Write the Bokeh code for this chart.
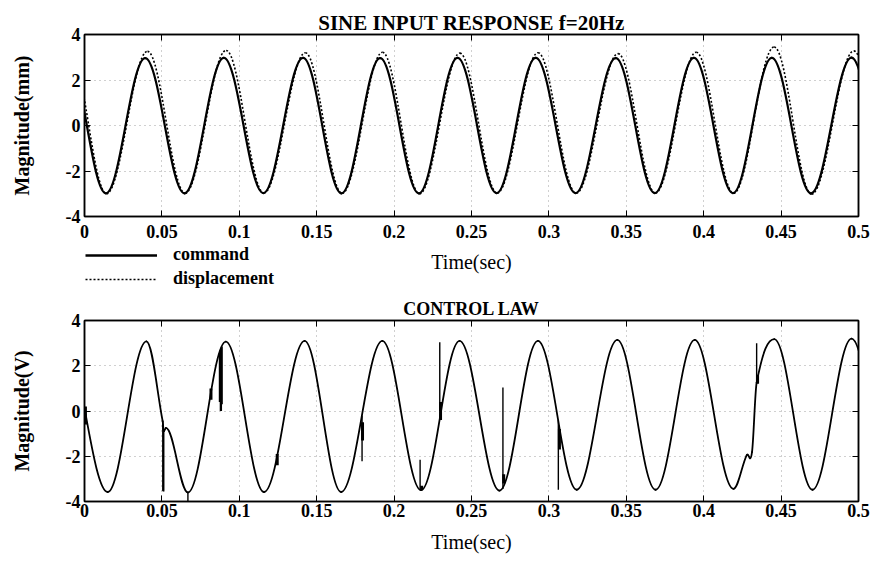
import numpy as np
from bokeh.plotting import figure
from bokeh.models import (Range1d, FixedTicker, LinearAxis, Legend, LegendItem,
                          CustomJSTickFormatter)
from bokeh.layouts import column
from bokeh.embed import file_html
from bokeh.resources import INLINE

# ---------------- data ----------------
x_ticks = [0.0, 0.05, 0.1, 0.15, 0.2, 0.25, 0.3, 0.35, 0.4, 0.45, 0.5]
x_tick_labels = ["0", "0.05", "0.1", "0.15", "0.2", "0.25", "0.3", "0.35", "0.4", "0.45", "0.5"]
y_ticks = [-4, -2, 0, 2, 4]
y_tick_labels = ["-4", "-2", "0", "2", "4"]

# top panel: successive peaks / troughs (time s, magnitude mm)
cmd_t = [-0.0107, 0.0138, 0.0392, 0.0646, 0.0900, 0.1155, 0.1412, 0.1660, 0.1910, 0.2160, 0.2410,
         0.2662, 0.2915, 0.3172, 0.3432, 0.3684, 0.3937, 0.4189, 0.4440, 0.4693, 0.4955, 0.5205]
cmd_v = [2.96, -2.98, 2.96, -2.98, 2.97, -2.97, 2.97, -2.98, 2.96, -2.98, 2.97,
         -2.97, 2.97, -2.97, 2.96, -2.97, 2.97, -2.97, 2.97, -2.98, 2.98, -2.97]
disp_t = [-0.0092, 0.0142, 0.0407, 0.0650, 0.0915, 0.1159, 0.1427, 0.1664, 0.1925, 0.2164, 0.2425,
          0.2666, 0.2930, 0.3176, 0.3447, 0.3688, 0.3952, 0.4193, 0.4455, 0.4697, 0.4970, 0.5209]
disp_v = [3.20, -3.00, 3.26, -2.98, 3.30, -2.97, 3.20, -2.98, 3.22, -3.00, 3.18,
          -2.97, 3.20, -2.98, 3.16, -2.97, 3.22, -2.98, 3.45, -3.02, 3.28, -2.97]

# bottom panel: control law knots (time s, volts)
law_t = [-0.0130, 0.0150, 0.0400, 0.0505, 0.0512, 0.0526, 0.0668, 0.0913, 0.1160, 0.1422,
         0.1658, 0.1924, 0.2174, 0.2423, 0.2681, 0.2929, 0.3180, 0.3442, 0.3689, 0.3942,
         0.4192, 0.4278, 0.4312, 0.4342, 0.4456, 0.4703, 0.4955, 0.5210]
law_v = [3.08, -3.58, 3.08, -0.45, -0.90, -0.75, -3.60, 3.07, -3.58, 3.10,
         -3.58, 3.10, -3.50, 3.10, -3.52, 3.10, -3.48, 3.14, -3.48, 3.14,
         -3.44, -1.95, -1.82, 1.25, 3.18, -3.48, 3.20, -3.48]
# switching spikes in the control law
spike_t = [0.0506, 0.0509, 0.0512, 0.0668, 0.0872, 0.0878, 0.0884, 0.0889,
           0.1793, 0.2168, 0.2295, 0.2703, 0.3061, 0.4342]
spike_top = [-0.45, -0.60, -0.85, -3.60, 2.55, 2.70, 2.80, 2.85,
             -0.20, -2.15, 3.04, 1.04, -0.40, 3.00]
spike_bottom = [-3.55, -3.50, -3.56, -4.00, 0.40, 0.00, 0.00, 0.30,
                -2.22, -3.45, 0.00, -3.45, -3.48, 1.25]
# short dense clusters of chatter
blob_t = [0.0006, 0.0817, 0.1245, 0.1796, 0.2178, 0.2300, 0.2708, 0.3068, 0.4348]
blob_top = [0.20, 1.00, -1.90, -0.50, -3.30, 0.40, -2.80, -0.80, 1.60]
blob_bottom = [-0.60, 0.50, -2.40, -1.30, -3.50, -0.40, -3.20, -1.70, 1.20]

FONT = "Liberation Serif"


def smooth_pieces(t, v, c=0.3634):
    """Cubic Bezier pieces through the knots (flat tangent at extrema)."""
    t = np.asarray(t, float)
    v = np.asarray(v, float)
    n = len(t)
    m = np.zeros(n)
    for i in range(1, n - 1):
        if (v[i] - v[i - 1]) * (v[i + 1] - v[i]) > 0:
            m[i] = (v[i + 1] - v[i - 1]) / (t[i + 1] - t[i - 1])
    dt = np.diff(t)
    return dict(x0=t[:-1], y0=v[:-1], x1=t[1:], y1=v[1:],
                cx0=t[:-1] + c * dt, cy0=v[:-1] + m[:-1] * c * dt,
                cx1=t[1:] - c * dt, cy1=v[1:] - m[1:] * c * dt)


def make_fig(height, title, title_size, title_standoff, ylabel, border_top, border_bottom,
             tick_standoff, xlabel_standoff):
    p = figure(width=872, height=height, x_range=Range1d(0, 0.5), y_range=Range1d(-4, 4),
               output_backend="svg", toolbar_location=None, title=title,
               min_border_left=84, min_border_right=14,
               min_border_top=border_top, min_border_bottom=border_bottom)
    p.title.align = "center"
    p.title.text_font = FONT
    p.title.text_font_size = title_size
    p.title.text_font_style = "bold"
    p.title.text_color = "black"
    p.title.standoff = title_standoff
    p.outline_line_color = "black"
    p.outline_line_width = 1.5

    xa = p.xaxis[0]
    xa.ticker = FixedTicker(ticks=x_ticks)
    xa.formatter = CustomJSTickFormatter(args=dict(labels=x_tick_labels), code="return labels[index]")
    xa.axis_label = "Time(sec)"
    xa.axis_label_text_font = FONT
    xa.axis_label_text_font_size = "20px"
    xa.axis_label_text_font_style = "normal"
    xa.axis_label_standoff = xlabel_standoff
    xa.major_label_standoff = tick_standoff

    ya = p.yaxis[0]
    ya.ticker = FixedTicker(ticks=y_ticks)
    ya.formatter = CustomJSTickFormatter(args=dict(labels=y_tick_labels), code="return labels[index]")
    ya.axis_label = ylabel
    ya.axis_label_text_font = FONT
    ya.axis_label_text_font_size = "20px"
    ya.axis_label_text_font_style = "bold"
    ya.axis_label_standoff = 30
    ya.major_label_standoff = 4

    for ax in (xa, ya):
        ax.major_label_text_font = FONT
        ax.major_label_text_font_size = "18px"
        ax.major_label_text_font_style = "bold"
        ax.major_label_text_color = "black"
        ax.axis_label_text_color = "black"
        ax.major_tick_in = 6
        ax.major_tick_out = 0
        ax.minor_tick_line_color = None
        ax.axis_line_color = "black"
        ax.axis_line_width = 1.5
        ax.major_tick_line_color = "black"

    # inner ticks on the top and right edges of the box (no labels)
    for loc, ticks in (("above", x_ticks), ("right", y_ticks)):
        ax = LinearAxis(ticker=FixedTicker(ticks=ticks),
                        formatter=CustomJSTickFormatter(code="return ''"),
                        major_label_text_font_size="1px",
                        major_label_standoff=0, major_tick_in=6, major_tick_out=0,
                        minor_tick_line_color=None, axis_line_color="black",
                        axis_line_width=1.5)
        p.add_layout(ax, loc)

    p.xgrid.ticker = FixedTicker(ticks=x_ticks)
    p.ygrid.ticker = FixedTicker(ticks=y_ticks)
    for g in (p.xgrid, p.ygrid):
        g.grid_line_color = "#8a8a8a"
        g.grid_line_dash = "1 4"
        g.grid_line_width = 1
        g.grid_line_alpha = 0.8
    return p


# ---------------- top panel ----------------
p1 = make_fig(282, "SINE INPUT RESPONSE f=20Hz", "21px", 0, "Magnitude(mm)", 34, 66, 8, 10)
p1.bezier(line_color="black", line_width=1.6, line_dash="2 2", **smooth_pieces(disp_t, disp_v))
p1.bezier(line_color="black", line_width=2.2, line_cap="round", **smooth_pieces(cmd_t, cmd_v))

# ---------------- legend strip of the top panel (transparent, overlaps the axis-label row) ----------------
pl = figure(width=872, height=44, x_range=Range1d(0, 0.5), y_range=Range1d(10, 11),
            output_backend="svg", toolbar_location=None, title=None,
            x_axis_type=None, y_axis_type=None,
            min_border_left=0, min_border_right=0, min_border_top=0, min_border_bottom=0,
            background_fill_alpha=0, border_fill_alpha=0, outline_line_color=None,
            margin=(-37, 0, 0, 0))
leg_cmd = pl.line(cmd_t, cmd_v, line_color="black", line_width=2.6)
leg_disp = pl.line(disp_t, disp_v, line_color="black", line_width=1.4, line_dash="2 2")
legend = Legend(items=[LegendItem(label="command", renderers=[leg_cmd]),
                       LegendItem(label="displacement", renderers=[leg_disp])],
                location=(1, 0), orientation="vertical",
                glyph_width=72, glyph_height=20, label_height=20, label_standoff=16,
                spacing=3, padding=0, margin=0,
                label_text_font=FONT, label_text_font_size="18px",
                label_text_font_style="bold", label_text_color="black",
                background_fill_alpha=0, border_line_alpha=0)
pl.add_layout(legend)

# ---------------- bottom panel ----------------
p2 = make_fig(271, "CONTROL LAW", "18px", 4, "Magnitude(V)", 31, 59, 2, 11)
p2.bezier(line_color="black", line_width=1.8, line_cap="round", **smooth_pieces(law_t, law_v))
p2.segment(x0=spike_t, y0=spike_top, x1=spike_t, y1=spike_bottom,
           line_color="black", line_width=1.4)
p2.segment(x0=blob_t, y0=blob_top, x1=blob_t, y1=blob_bottom,
           line_color="black", line_width=3.0)

layout = column(p1, pl, p2)
open("out.html", "w").write(file_html(layout, INLINE))
